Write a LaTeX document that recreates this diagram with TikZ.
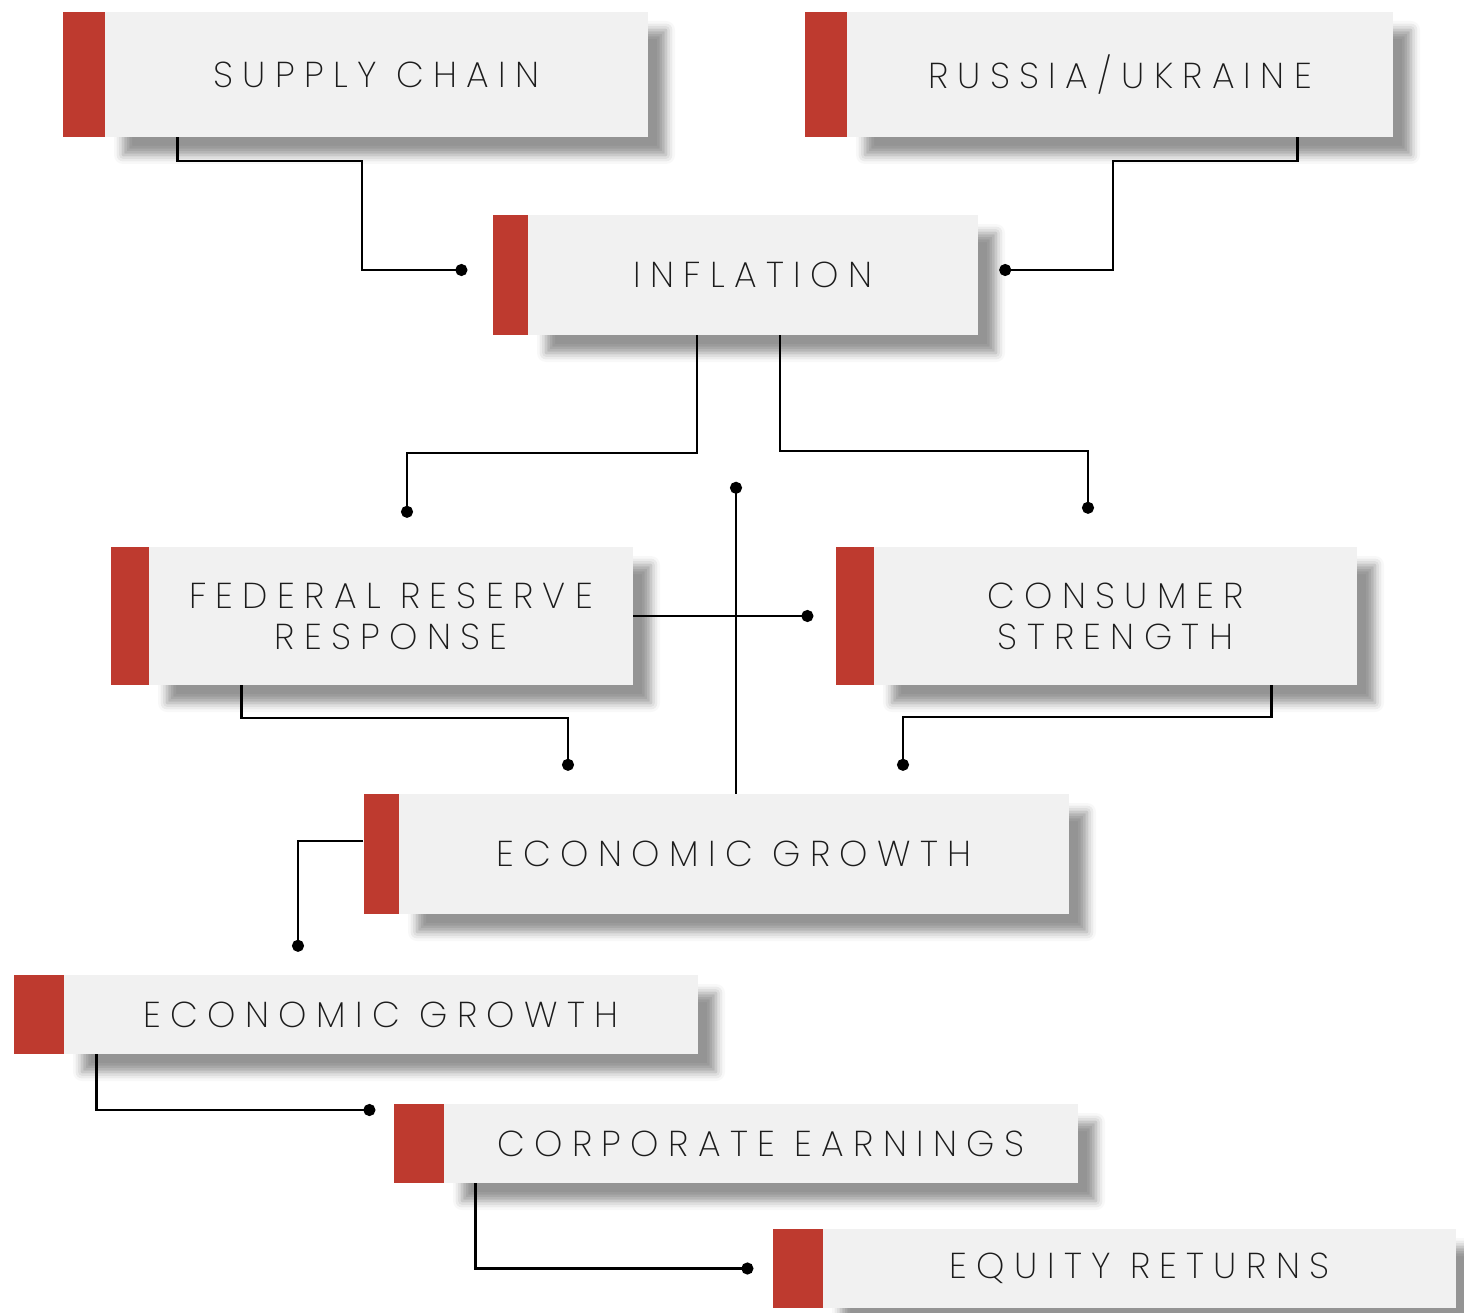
\documentclass[tikz,border=0pt]{standalone}
\usepackage{fontspec}
\newfontfamily\cardfont{Poppins ExtraLight}[LetterSpace=26]
\usetikzlibrary{positioning,arrows.meta,shadows.blur}
\definecolor{barred}{HTML}{BE3A2F}
\definecolor{cardgray}{HTML}{F1F1F1}
\definecolor{inkgray}{HTML}{1C1C1C}
\tikzset{
card/.style 2 args={
  rectangle,
  fill=cardgray,
  minimum width=#1,
  minimum height=#2,
  inner sep=0pt,
  align=center,
  text=inkgray,
  font=\cardfont\fontsize{36}{41}\selectfont,
  blur shadow={shadow xshift=18pt,shadow yshift=-18pt,
    shadow blur radius=9pt,shadow opacity=42}
  },
bar/.style 2 args={
  rectangle,
  fill=barred,
  minimum width=#1,
  minimum height=#2,
  inner sep=0pt
  },
link/.style={line width=2.8pt,-{Circle[length=12pt]}}
}

\begin{document}
\begin{tikzpicture}[x=1pt,y=-1pt]
\useasboundingbox (0,0) rectangle (1464,1313);
% boxes
\node[card={543pt}{125pt}] (sc) at (376.5,74.5) {SUPPLY CHAIN};
\node[bar={42pt}{125pt},left=0pt of sc] (sc-bar) {};
\node[card={546pt}{125pt}] (ru) at (1120,74.5) {RUSSIA/UKRAINE};
\node[bar={42pt}{125pt},left=0pt of ru] (ru-bar) {};
\node[card={450pt}{120pt}] (infl) at (753,275) {INFLATION};
\node[bar={35pt}{120pt},left=0pt of infl] (infl-bar) {};
\node[card={484pt}{138pt}] (fed) at (391,616) {FEDERAL RESERVE\\RESPONSE};
\node[bar={38pt}{138pt},left=0pt of fed] (fed-bar) {};
\node[card={483pt}{138pt}] (cons) at (1115.5,616) {CONSUMER\\STRENGTH};
\node[bar={38pt}{138pt},left=0pt of cons] (cons-bar) {};
\node[card={670pt}{120pt}] (eg) at (734,854) {ECONOMIC GROWTH};
\node[bar={35pt}{120pt},left=0pt of eg] (eg-bar) {};
\node[card={634pt}{79pt}] (eg2) at (381,1014.5) {ECONOMIC GROWTH};
\node[bar={50pt}{79pt},left=0pt of eg2] (eg2-bar) {};
\node[card={634pt}{79pt}] (ce) at (761,1143.5) {CORPORATE EARNINGS};
\node[bar={50pt}{79pt},left=0pt of ce] (ce-bar) {};
\node[card={633pt}{79pt}] (eq) at (1139.5,1268.5) {EQUITY RETURNS};
\node[bar={50pt}{79pt},left=0pt of eq] (eq-bar) {};

% free ends
\coordinate (infl-l) at ([xshift=-25pt,yshift=5pt]infl-bar.west);
\coordinate (infl-r) at ([xshift=21pt,yshift=5pt]infl.east);
\coordinate (fed-in) at ([xshift=16pt,yshift=29pt]fed.north);
\coordinate (cons-top) at ([xshift=-27.5pt,yshift=33pt]cons.north);
\coordinate (cons-in) at ([xshift=-22pt]cons-bar.west);
\coordinate (eg-top) at ([xshift=2pt,yshift=312pt]eg.north);
\coordinate (eg-l) at ([xshift=-166pt,yshift=23pt]eg.north);
\coordinate (eg-r) at ([xshift=169pt,yshift=23pt]eg.north);
\coordinate (eg2-in) at ([xshift=-83pt,yshift=23pt]eg2.north);
\coordinate (ce-in) at ([xshift=-18pt,yshift=33.5pt]ce-bar.west);
\coordinate (eq-in) at ([xshift=-19pt]eq-bar.west);

% connectors
\draw[link] ([xshift=73pt]sc.south west) |- (362,161) |- (infl-l);
\draw[link] ([xshift=-96pt]ru.south east) |- (1113,161) |- (infl-r);
\draw[link] ([xshift=-56pt]infl.south) |- (407,453) -- (fed-in);
\draw[link] ([xshift=27pt]infl.south) |- (1088,451) -- (cons-top);
\draw[link] ([xshift=2pt]eg.north) -- (eg-top);
\draw[link] (fed.east) -- (cons-in);
\draw[link] ([xshift=93pt]fed.south west) |- (568,718) -- (eg-l);
\draw[link] ([xshift=-86pt]cons.south east) |- (903,717) -- (eg-r);
\draw[link] ([yshift=13pt]eg-bar.west) -| (eg2-in);
\draw[link] ([xshift=33pt]eg2.south west) |- (ce-in);
\draw[link] ([xshift=32pt]ce.south west) |- (eq-in);
\end{tikzpicture}
\end{document}
